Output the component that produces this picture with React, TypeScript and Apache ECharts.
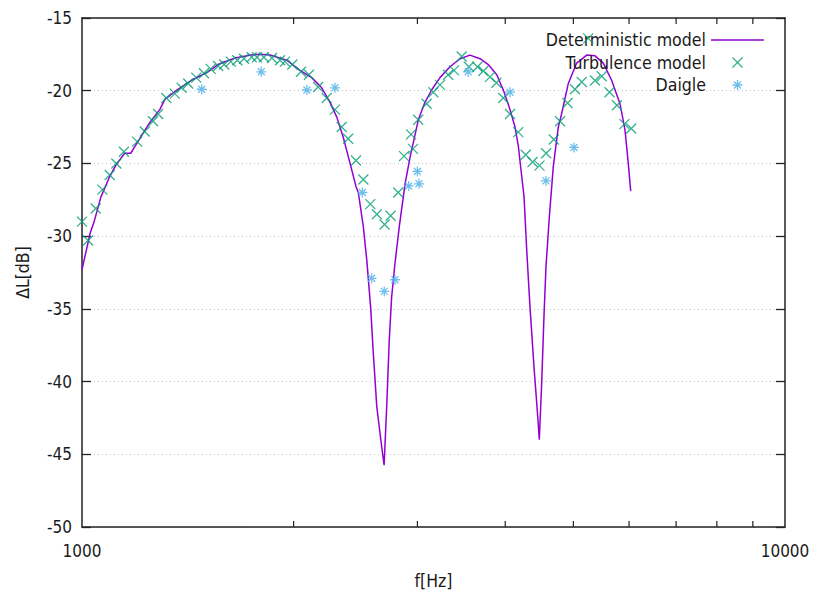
import React, { useEffect, useRef } from "react";
import * as echarts from "echarts";

// Deterministic model: level difference vs frequency
const detFreq = [
  1000, 1027, 1042, 1064, 1095, 1118, 1150, 1173, 1201, 1248, 1290, 1312, 1369, 1429, 1511, 1561,
  1651, 1739, 1791, 1851, 1955, 2042, 2122, 2193, 2253, 2303, 2353, 2406, 2454, 2472, 2513, 2541,
  2574, 2596, 2626, 2661, 2690, 2713, 2736, 2757, 2787, 2827, 2881, 2928, 3009, 3075, 3143, 3230,
  3338, 3449, 3564, 3683, 3784, 3890, 3975, 4063, 4130, 4175, 4222, 4254, 4292, 4338, 4395, 4449,
  4472, 4507, 4541, 4571, 4621, 4682, 4759, 4813, 4918, 5054, 5223, 5367, 5515, 5669, 5825, 5921,
  5985, 6033,
];
const detLevel = [
  -32.3, -29.8, -28.9, -27.3, -25.9, -25.1, -24.3, -24.3, -23.5, -22.2, -21.3, -20.6, -19.9, -19.3, -18.7, -18.2,
  -17.75, -17.55, -17.5, -17.55, -17.9, -18.6, -19.1, -19.8, -20.8, -21.8, -23.2, -25.0, -26.6, -27.0, -29.35, -31.6,
  -34.9, -38.0, -41.7, -44.0, -45.75, -41.7, -37.1, -34.2, -31.9, -29.35, -26.4, -24.6, -22.0, -20.8, -19.95, -19.1,
  -18.35, -17.8, -17.55, -17.8, -18.2, -18.9, -19.95, -21.3, -22.5, -23.8, -25.9, -27.3, -31.0, -34.9, -39.0, -42.4,
  -44.0, -40.1, -35.5, -32.1, -28.7, -25.2, -22.5, -21.55, -19.5, -18.1, -17.55, -17.6, -18.1, -19.3, -20.9, -22.7,
  -25.0, -26.9,
];

// Turbulence model
const turbFreq = [
  1000, 1020, 1046, 1069, 1095, 1119, 1147, 1198, 1228, 1262, 1283, 1318, 1355, 1386, 1416, 1454,
  1491, 1524, 1562, 1593, 1628, 1663, 1700, 1743, 1774, 1814, 1863, 1913, 1944, 1992, 2049, 2103,
  2167, 2229, 2290, 2341, 2391, 2453, 2513, 2571, 2627, 2694, 2748, 2817, 2871, 2938, 2957, 3008,
  3092, 3160, 3230, 3318, 3382, 3468, 3551, 3652, 3723, 3805, 3886, 3974, 4063, 4174, 4278, 4374,
  4475, 4573, 4690, 4786, 4905, 5026, 5139, 5249, 5367, 5487, 5628, 5767, 5911, 6043,
];
const turbLevel = [
  -29.0, -30.3, -28.1, -26.8, -25.8, -25.0, -24.2, -23.5, -22.8, -22.1, -21.6, -20.5, -20.2, -19.8, -19.5, -19.1,
  -18.8, -18.5, -18.3, -18.2, -18.0, -17.9, -17.8, -17.7, -17.7, -17.7, -17.75, -17.9, -18.0, -18.2, -18.7, -18.9,
  -19.75, -20.5, -21.3, -22.5, -23.3, -24.8, -26.1, -27.8, -28.5, -29.2, -28.6, -27.0, -24.5, -23.0, -24.0, -22.0,
  -20.9, -20.1, -19.6, -18.9, -18.6, -17.65, -18.35, -18.35, -18.65, -19.05, -19.45, -20.5, -21.6, -22.85, -24.4, -24.9,
  -25.15, -24.3, -23.35, -22.1, -20.85, -19.9, -19.4, -16.4, -19.3, -19.0, -20.1, -21.0, -22.3, -22.6,
];

// Daigle measurements
const daigleFreq = [1480, 1799, 2089, 2290, 2505, 2582, 2691, 2787, 2916, 3000, 3016, 3543, 4063, 4570, 5010];
const daigleLevel = [-19.9, -18.7, -19.95, -19.8, -27.0, -32.9, -33.8, -33.0, -26.55, -25.55, -26.4, -18.7, -20.1, -26.2, -23.9];

// Axis ranges and minor tick positions on the frequency axis
const freqMin = 1000;
const freqMax = 10000;
const levelMin = -50;
const levelMax = -15;
const levelStep = 5;
const minorFreqTicks = [2000, 3000, 4000, 5000, 6000, 7000, 8000, 9000];

const FONT = '"DejaVu Sans Condensed", "DejaVu Sans", sans-serif';
const TEXT = "#1a1a1a";
const FRAME = "#222222";
const PURPLE = "#9400d3";
const GREEN = "#009e73";
const BLUE = "#56b4e9";

const CROSS = "path://M0 0L10 10M0 10L10 0";
const STAR = "path://M0 5L10 5M5 0L5 10M1.5 1.5L8.5 8.5M1.5 8.5L8.5 1.5";
const LINE_KEY = "path://M0 0H53V1.5H0Z";

const zip = (xs: number[], ys: number[]) => xs.map((x, i) => [x, ys[i]]);

export default function App() {
  const ref = useRef<HTMLDivElement>(null);

  useEffect(() => {
    if (!ref.current) return;
    const chart = echarts.init(ref.current, undefined, { renderer: "svg" });

    const frameLine = { show: true, onZero: false, lineStyle: { color: FRAME, width: 1.5 } };

    chart.setOption({
      animation: false,
      backgroundColor: "#ffffff",
      textStyle: { fontFamily: FONT },
      grid: { left: 82, top: 18, width: 703, height: 509, containLabel: false },
      legend: {
        orient: "vertical",
        right: 48,
        top: 26,
        align: "right",
        itemWidth: 53,
        itemHeight: 10,
        itemGap: 4.5,
        textStyle: { fontFamily: FONT, fontSize: 17.6, color: TEXT },
        data: [
          {
            name: "Deterministic model",
            icon: LINE_KEY,
            itemStyle: { color: PURPLE, borderWidth: 0 },
          },
          {
            name: "Turbulence model",
            icon: CROSS,
            itemStyle: { color: "transparent", borderColor: GREEN, borderWidth: 1.3 },
          },
          {
            name: "Daigle",
            icon: STAR,
            itemStyle: { color: "transparent", borderColor: BLUE, borderWidth: 1.3 },
          },
        ],
      },
      xAxis: [
        {
          type: "log",
          logBase: 10,
          min: freqMin,
          max: freqMax,
          position: "bottom",
          name: "f[Hz]",
          nameLocation: "middle",
          nameGap: 45,
          nameTextStyle: { fontFamily: FONT, fontSize: 17.5, color: TEXT },
          axisLine: frameLine,
          axisTick: { show: false },
          axisLabel: {
            fontFamily: FONT,
            fontSize: 17,
            color: TEXT,
            margin: 15,
            showMinLabel: true,
            showMaxLabel: true,
            formatter: (v: number) => String(Math.round(v)),
          },
          splitLine: { show: false },
        },
        {
          type: "log",
          logBase: 10,
          min: freqMin,
          max: freqMax,
          position: "top",
          axisLine: frameLine,
          axisTick: { show: false },
          axisLabel: { show: false },
          splitLine: { show: false },
        },
      ],
      yAxis: [
        {
          type: "value",
          min: levelMin,
          max: levelMax,
          interval: levelStep,
          position: "left",
          name: "ΔL[dB]",
          nameLocation: "middle",
          nameGap: 50,
          nameRotate: 90,
          nameTextStyle: { fontFamily: FONT, fontSize: 17.5, color: TEXT },
          axisLine: frameLine,
          axisTick: { show: true, inside: true, length: 9, lineStyle: { color: FRAME, width: 1.3 } },
          axisLabel: { fontFamily: FONT, fontSize: 17, color: TEXT, margin: 10 },
          splitLine: { show: true, lineStyle: { color: "#c4c4c4", width: 1, type: [1, 3] } },
        },
        {
          type: "value",
          min: levelMin,
          max: levelMax,
          interval: levelStep,
          position: "right",
          axisLine: frameLine,
          axisTick: { show: true, inside: true, length: 9, lineStyle: { color: FRAME, width: 1.3 } },
          axisLabel: { show: false },
          splitLine: { show: false },
        },
      ],
      series: [
        {
          name: "Deterministic model",
          type: "line",
          data: zip(detFreq, detLevel),
          symbol: "none",
          lineStyle: { color: PURPLE, width: 1.5 },
          itemStyle: { color: PURPLE },
          z: 3,
        },
        {
          name: "Turbulence model",
          type: "scatter",
          data: zip(turbFreq, turbLevel),
          symbol: CROSS,
          symbolSize: 10,
          itemStyle: { color: "transparent", borderColor: GREEN, borderWidth: 1.3, opacity: 0.8 },
          z: 4,
        },
        {
          name: "Daigle",
          type: "scatter",
          data: zip(daigleFreq, daigleLevel),
          symbol: STAR,
          symbolSize: 10,
          itemStyle: { color: "transparent", borderColor: BLUE, borderWidth: 1.3, opacity: 0.85 },
          z: 5,
        },
        {
          name: "minor-ticks",
          type: "custom",
          silent: true,
          clip: false,
          data: minorFreqTicks.map((f) => [f, levelMin]),
          renderItem: (params: any, api: any) => {
            const cs = params.coordSys;
            const x = api.coord([api.value(0), levelMin])[0];
            const bottom = cs.y + cs.height;
            const style = { stroke: FRAME, lineWidth: 1.2 };
            return {
              type: "group",
              children: [
                { type: "line", shape: { x1: x, y1: bottom, x2: x, y2: bottom - 6 }, style },
                { type: "line", shape: { x1: x, y1: cs.y, x2: x, y2: cs.y + 6 }, style },
              ],
            };
          },
          z: 6,
        },
      ],
    });

    return () => chart.dispose();
  }, []);

  return (
    <div
      ref={ref}
      style={{ position: "fixed", left: 0, top: 0, width: 817, height: 598, background: "#ffffff" }}
    />
  );
}
